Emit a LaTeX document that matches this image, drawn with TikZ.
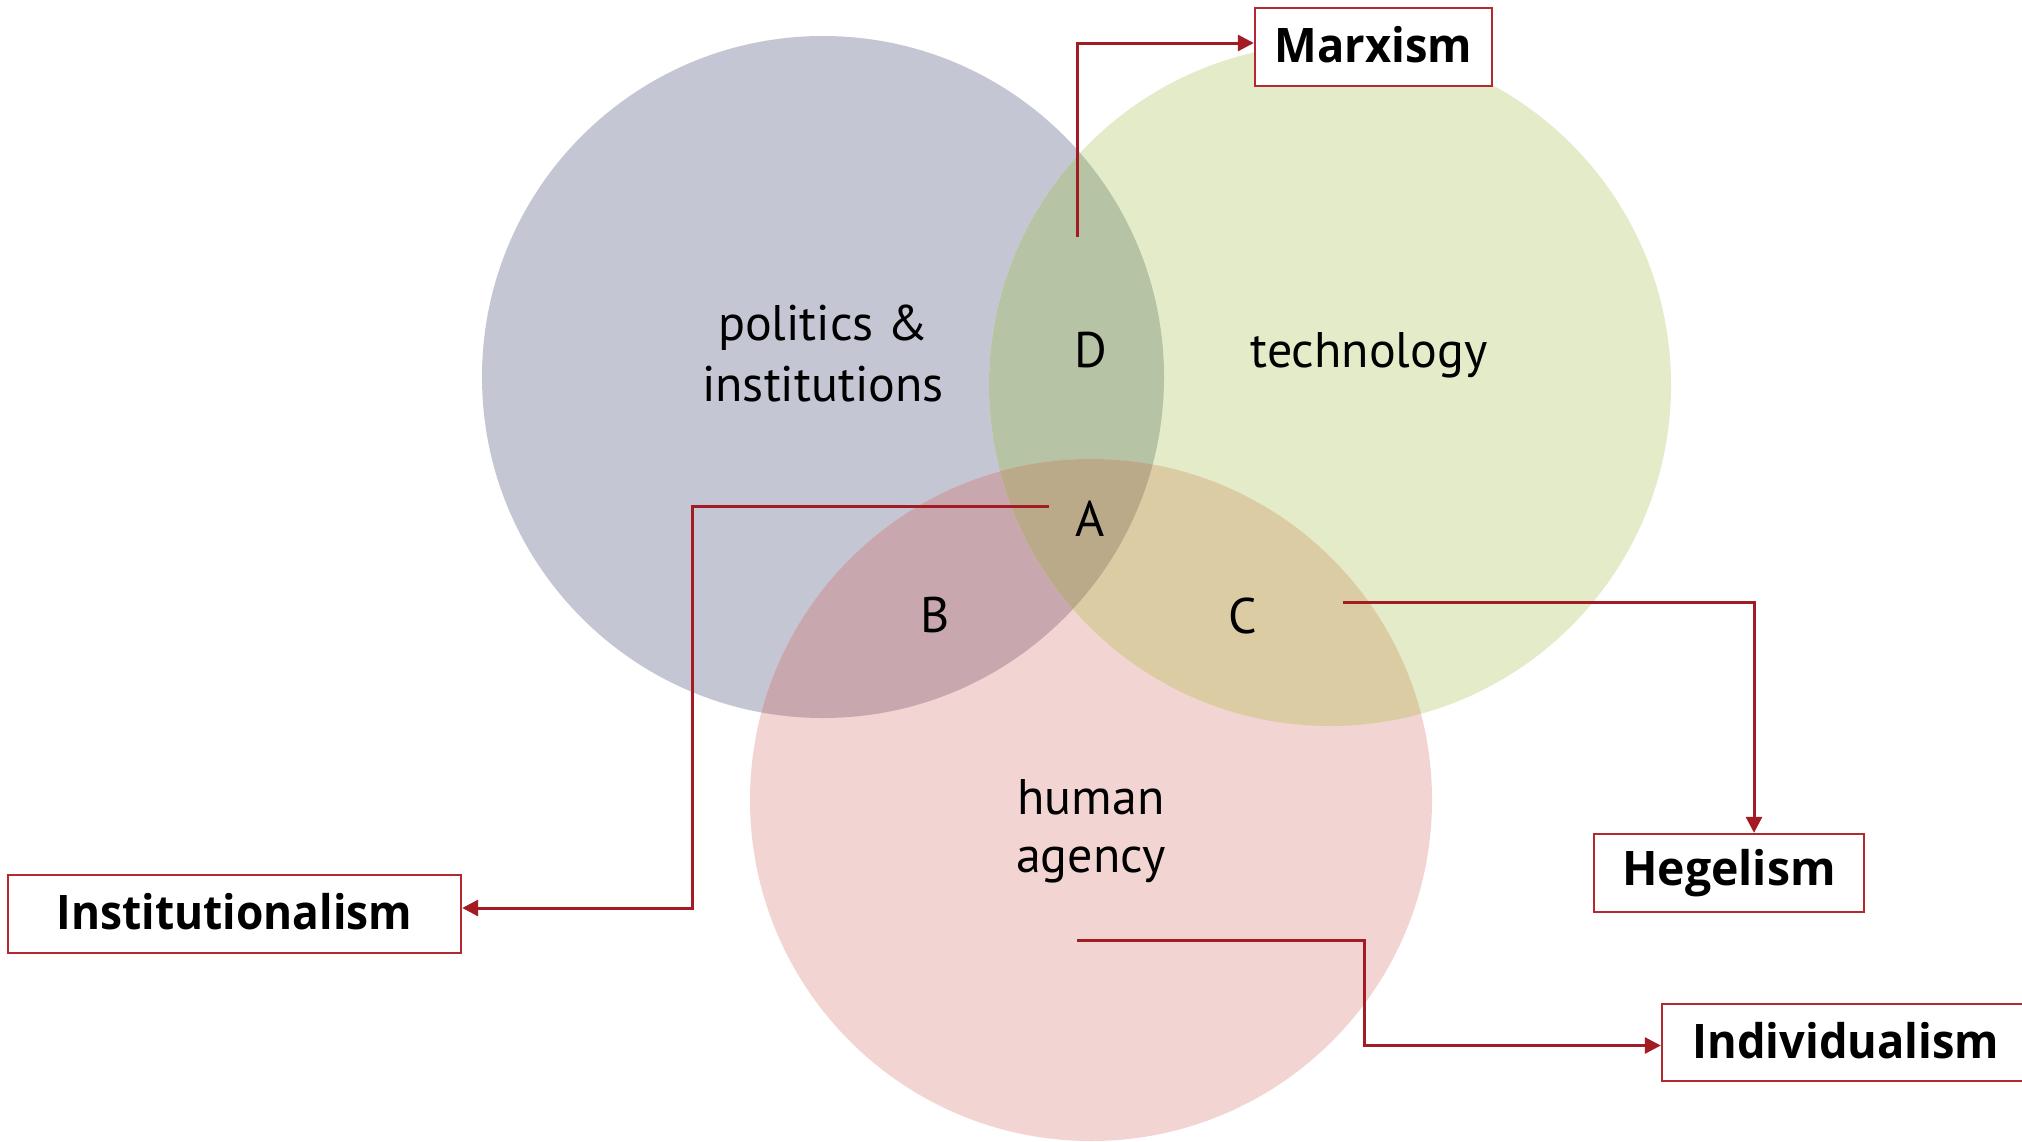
\documentclass[tikz,border=0pt]{standalone}
\usepackage{fontspec}
\setmainfont{Open Sans}
\newfontfamily\labfont{PT Sans}
\newfontfamily\boxfont{Open Sans}
\usetikzlibrary{arrows.meta}
\definecolor{cgray}{RGB}{196,198,211}
\definecolor{cgreen}{RGB}{227,235,200}
\definecolor{cpink}{RGB}{242,212,211}
\definecolor{cD}{RGB}{182,195,164}
\definecolor{cB}{RGB}{200,168,174}
\definecolor{cC}{RGB}{220,204,164}
\definecolor{cA}{RGB}{186,170,138}
\definecolor{lred}{RGB}{163,28,36}
\definecolor{bred}{RGB}{178,42,48}
\newcommand{\boxtext}[2]{\raisebox{2.5pt}{\scalebox{#1}[1]{#2}}}
\tikzset{
  lab/.style={font={\labfont\fontsize{25}{30.5}\selectfont}, inner sep=0pt, anchor=base, align=center},
  theory/.style={draw=bred, line width=1.2pt, fill=white, inner sep=0pt, font={\boxfont\bfseries\fontsize{23.8}{28}\selectfont}},
  conn/.style={draw=lred, line width=1.5pt, -{Triangle[length=8pt,width=8pt]}},
}
\begin{document}
\begin{tikzpicture}[x=0.5pt,y=-0.5pt]
\useasboundingbox (0,0) rectangle (2022,1141);
\fill[white] (0,0) rectangle (2022,1141);
\coordinate (c1) at (823,377);
\coordinate (c2) at (1330,385);
\coordinate (c3) at (1091,800);
\def\R{170.5pt}
\fill[cgray] (c1) circle[radius=\R];
\fill[cgreen] (c2) circle[radius=\R];
\fill[cpink] (c3) circle[radius=\R];
\begin{scope}
  \clip (c1) circle[radius=\R];
  \fill[cD] (c2) circle[radius=\R];
  \fill[cB] (c3) circle[radius=\R];
\end{scope}
\begin{scope}
  \clip (c2) circle[radius=\R];
  \fill[cC] (c3) circle[radius=\R];
\end{scope}
\begin{scope}
  \clip (c1) circle[radius=\R];
  \clip (c2) circle[radius=\R];
  \fill[cA] (c3) circle[radius=\R];
\end{scope}

% circle labels (base anchor = baseline of the last line)
\node[lab] (pol) at (823,401) {politics \&\\institutions};
\node[lab] (tech) at (1369,367) {technology};
\node[lab] (hum) at (1091,872) {human\\[-1.7pt]agency};
\node[lab] (D) at (1091,367) {D};
\node[lab] (A) at (1090,536) {A};
\node[lab] (B) at (935,632) {B};
\node[lab] (C) at (1243,633) {C};

% theory boxes
\node[theory, minimum width=118.5pt, minimum height=39pt] (marx) at (1373.5,47) {\boxtext{0.95}{Marxism}};
\node[theory, minimum width=226.5pt, minimum height=39pt] (inst) at (234.5,914) {\boxtext{0.93}{Institutionalism}};
\node[theory, minimum width=135pt, minimum height=39pt] (heg) at (1729,873) {\boxtext{0.975}{Hegelism}};
\node[theory, minimum width=184pt, minimum height=38.5pt] (ind) at (1846,1042.5) {\boxtext{0.95}{Individualism}};

% connector start points
\coordinate (dstart) at (1077,237);
\coordinate (astart) at (1049,506);
\coordinate (abend) at (692,506);
\coordinate (cstart) at (1343,602);
\coordinate (hstart) at (1077,940);
\coordinate (hbend) at (1364,940);

\draw[conn] (dstart) |- ([yshift=2pt]marx.west);
\draw[conn] (astart) -- (abend) |- ([yshift=3pt]inst.east);
\draw[conn] (cstart) -| ([xshift=12.5pt]heg.north);
\draw[conn] (hstart) -- (hbend) |- ([yshift=-1.5pt]ind.west);
\end{tikzpicture}
\end{document}
